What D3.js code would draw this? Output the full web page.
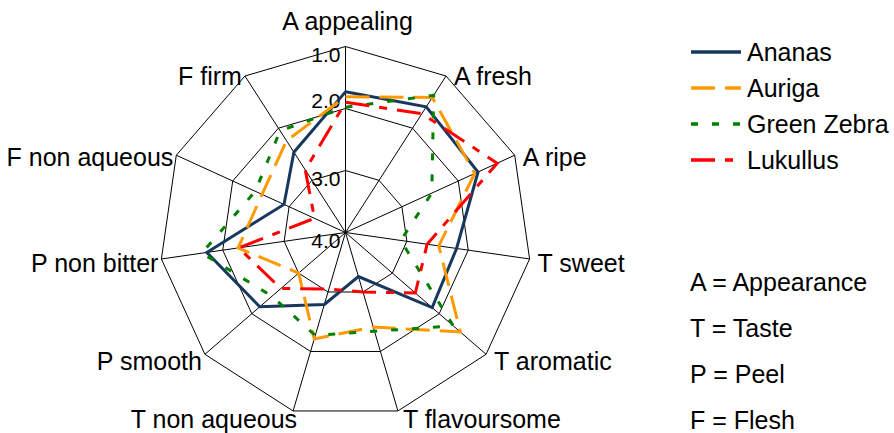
<!DOCTYPE html>
<html>
<head>
<meta charset="utf-8">
<script src="https://cdn.jsdelivr.net/npm/d3@7"></script>
<style>
  html, body { margin: 0; padding: 0; background: #fff; }
  svg { display: block; font-family: "Liberation Sans", Arial, sans-serif; }
</style>
</head>
<body>
<svg id="chart" width="894" height="433"></svg>
<script>
// Sensory attributes, clockwise from the top
const categories = ["A appealing", "A fresh", "A ripe", "T sweet", "T aromatic",
  "T flavoursome", "T non aqueous", "P smooth", "P non bitter", "F non aqueous", "F firm"];

// Mean scores per variety (1 = best, 4 = worst)
const ananas     = [1.73, 1.59, 1.65, 2.19, 2.15, 3.26, 2.79, 2.17, 1.74, 2.91, 2.46];
const auriga     = [1.81, 1.41, 1.71, 2.48, 1.55, 2.41, 2.21, 3.00, 2.25, 2.52, 2.24];
const greenZebra = [1.98, 1.37, 2.47, 3.10, 1.70, 2.34, 2.27, 2.43, 1.66, 2.40, 2.05];
const lukullus   = [1.90, 1.72, 1.31, 2.67, 2.51, 3.00, 3.05, 2.62, 2.26, 3.45, 2.80];

const seriesNames = ["Ananas", "Auriga", "Green Zebra", "Lukullus"];
const seriesValues = [ananas, auriga, greenZebra, lukullus];
const seriesColors = ["#17375E", "#FF9900", "#008000", "#FF0000"];
const seriesDashes = [null, "24,10", "7,14", "24,10,8,10"];

const tickValues = [1, 2, 3, 4];
const tickLabels = ["1.0", "2.0", "3.0", "4.0"];

const abbreviations = ["A = Appearance", "T = Taste", "P = Peel", "F = Flesh"];

const svg = d3.select("#chart");
const cx = 345.5, cy = 232.5, R = 186;
const n = categories.length;

const r = d3.scaleLinear().domain([4, 1]).range([0, R]);
const angle = d3.scaleLinear().domain([0, n]).range([0, 2 * Math.PI]);

const g = svg.append("g").attr("transform", `translate(${cx},${cy})`);

const pt = (i, rad) => [Math.sin(angle(i)) * rad, -Math.cos(angle(i)) * rad];

// Grid rings
const ring = d3.lineRadial()
  .angle((d, i) => angle(i))
  .radius(d => d)
  .curve(d3.curveLinearClosed);

g.selectAll(".ring")
  .data(tickValues.filter(v => v < 4))
  .join("path")
  .attr("class", "ring")
  .attr("d", v => ring(d3.range(n).map(() => r(v))))
  .attr("fill", "none")
  .attr("stroke", "#000")
  .attr("stroke-width", 1);

// Spokes
g.selectAll(".spoke")
  .data(d3.range(n))
  .join("line")
  .attr("class", "spoke")
  .attr("x1", 0).attr("y1", 0)
  .attr("x2", i => pt(i, r(1))[0])
  .attr("y2", i => pt(i, r(1))[1])
  .attr("stroke", "#000")
  .attr("stroke-width", 1);

// Value axis labels on the top spoke
g.selectAll(".tick")
  .data(tickValues)
  .join("text")
  .attr("class", "tick")
  .attr("x", -5)
  .attr("y", v => -r(v))
  .attr("dy", v => v === 2 ? "-0.02em" : "0.74em")
  .attr("text-anchor", "end")
  .attr("font-size", 21)
  .attr("fill", "#000")
  .text((v, i) => tickLabels[i]);

// Series polygons
const line = d3.lineRadial()
  .angle((d, i) => angle(i))
  .radius(d => r(d))
  .curve(d3.curveLinearClosed);

g.selectAll(".series")
  .data(seriesValues)
  .join("path")
  .attr("class", "series")
  .attr("d", d => line(d))
  .attr("fill", "none")
  .attr("stroke", (d, i) => seriesColors[i])
  .attr("stroke-width", 3)
  .attr("stroke-linejoin", "miter")
  .attr("stroke-dasharray", (d, i) => seriesDashes[i]);

// Category labels next to the outer-ring vertices
function labelPos(i) {
  const [vx, vy] = pt(i, R);
  const s = Math.sin(angle(i)), c = Math.cos(angle(i));
  if (Math.abs(s) < 0.01) return { x: vx + 2, y: vy - 17, anchor: "middle", dy: "0" };
  const bottom = c < -0.9;
  const dx = s > 0 ? (bottom ? 5 : 8) : (bottom ? 4 : -3);
  return { x: vx + dx, y: vy + 4 - 4 * c, anchor: s > 0 ? "start" : "end", dy: "0.35em" };
}

g.selectAll(".cat")
  .data(categories)
  .join("text")
  .attr("class", "cat")
  .each(function (d, i) {
    const p = labelPos(i);
    d3.select(this)
      .attr("x", p.x).attr("y", p.y)
      .attr("dy", p.dy)
      .attr("text-anchor", p.anchor);
  })
  .attr("font-size", 25)
  .attr("fill", "#000")
  .text(d => d);

// Legend
const legend = svg.append("g").attr("transform", "translate(691,52)");
const rows = legend.selectAll(".row")
  .data(seriesNames)
  .join("g")
  .attr("class", "row")
  .attr("transform", (d, i) => `translate(0,${i * 36})`);
rows.append("line")
  .attr("x1", 0).attr("x2", 50).attr("y1", 0).attr("y2", 0)
  .attr("stroke", (d, i) => seriesColors[i])
  .attr("stroke-width", 3.5)
  .attr("stroke-dasharray", (d, i) => seriesDashes[i]);
rows.append("text")
  .attr("x", 56).attr("dy", "0.35em")
  .attr("font-size", 25)
  .attr("fill", "#000")
  .text(d => d);

// Abbreviation key
svg.append("g")
  .attr("transform", "translate(690,282)")
  .selectAll("text")
  .data(abbreviations)
  .join("text")
  .attr("y", (d, i) => i * 46)
  .attr("dy", "0.35em")
  .attr("font-size", 25)
  .attr("fill", "#000")
  .text(d => d);
</script>
</body>
</html>
